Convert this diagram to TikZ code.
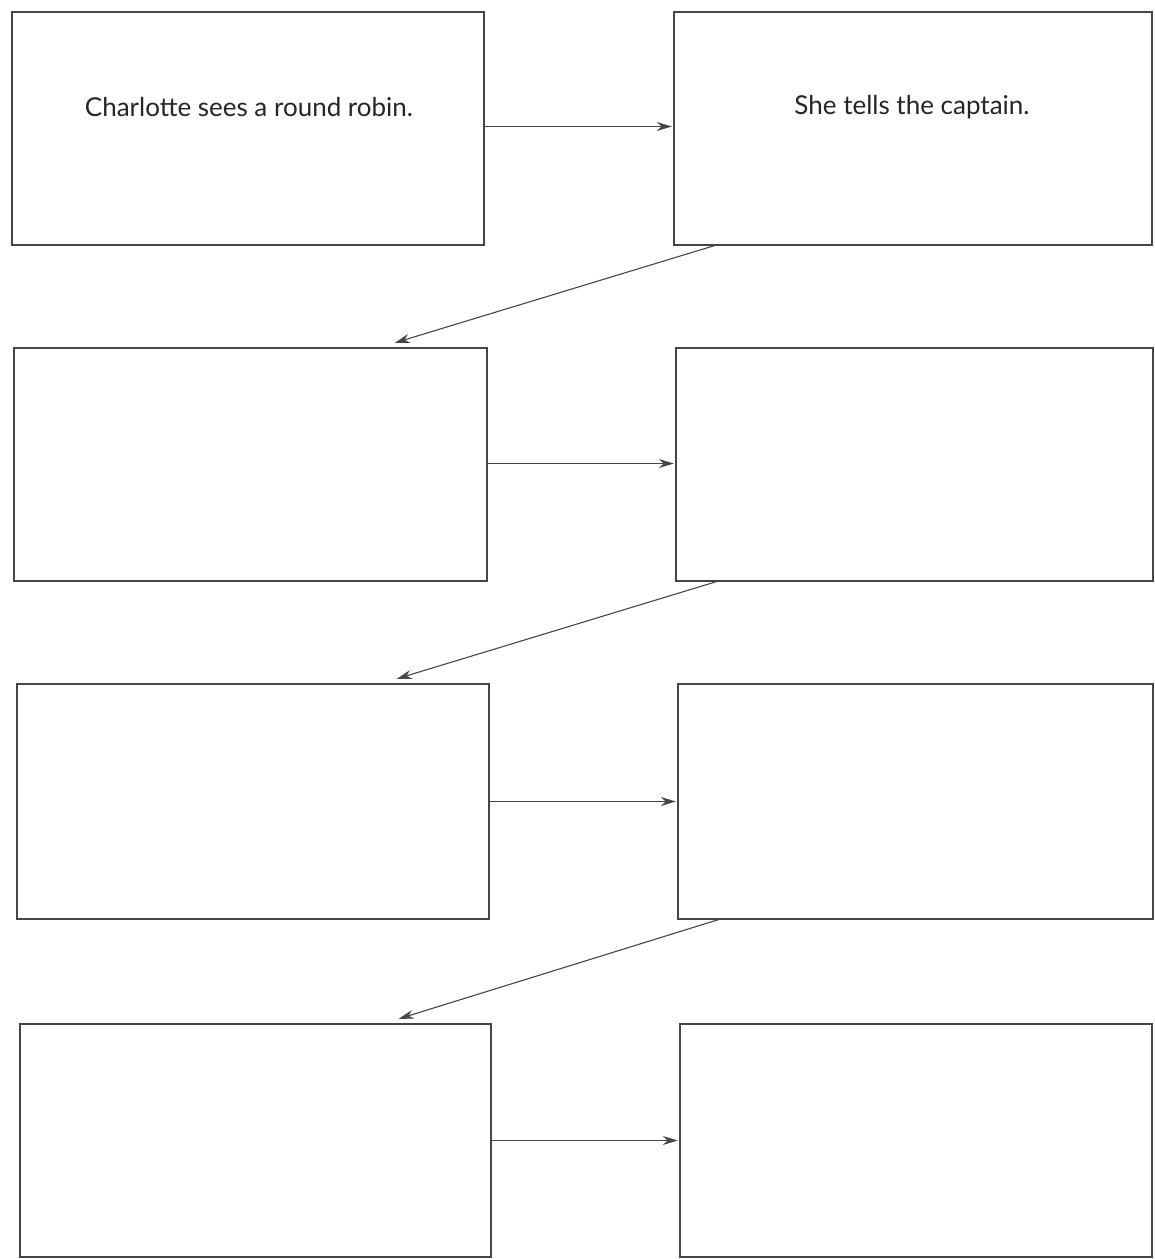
\documentclass[tikz,border=0pt]{standalone}
\usepackage{fontspec}
\setmainfont{Lato}
\usetikzlibrary{arrows.meta}
\definecolor{ink}{RGB}{70,70,70}
\begin{document}
\begin{tikzpicture}[x=1pt,y=-1pt,
  panel/.style={draw=ink, line width=1.3pt, inner sep=0pt},
  flow/.style={draw=ink, line width=1.1pt, -{Stealth[length=15pt,width=9pt]}},
  txt/.style={font=\fontsize{26}{30}\selectfont, text=black!85}]
\useasboundingbox[fill=white] (0,0) rectangle (1155,1259);
% boxes
\draw[panel] (12,12) rectangle (484,245);
\node (A) [inner sep=0pt, minimum width=472pt, minimum height=233pt] at (248,128.5) {};
\draw[panel] (674,12) rectangle (1152,245);
\node (B) [inner sep=0pt, minimum width=478pt, minimum height=233pt] at (913,128.5) {};
\draw[panel] (14,348) rectangle (487,581);
\node (C) [inner sep=0pt, minimum width=473pt, minimum height=233pt] at (250.5,464.5) {};
\draw[panel] (676,348) rectangle (1153,581);
\node (D) [inner sep=0pt, minimum width=477pt, minimum height=233pt] at (914.5,464.5) {};
\draw[panel] (17,684) rectangle (489,919);
\node (E) [inner sep=0pt, minimum width=472pt, minimum height=235pt] at (253,801.5) {};
\draw[panel] (678,684) rectangle (1153,919);
\node (F) [inner sep=0pt, minimum width=475pt, minimum height=235pt] at (915.5,801.5) {};
\draw[panel] (20,1024) rectangle (491,1257);
\node (G) [inner sep=0pt, minimum width=471pt, minimum height=233pt] at (255.5,1140.5) {};
\draw[panel] (680,1024) rectangle (1152,1257);
\node (H) [inner sep=0pt, minimum width=472pt, minimum height=233pt] at (916,1140.5) {};
% texts
\node (tA) [txt] at (249,107) {Charlotte sees a round robin.};
\node (tB) [txt] at (912,107) {She tells the captain.};
% horizontal arrows
\draw[flow] ([yshift=2pt]A.east) -- ([xshift=-2pt,yshift=2pt]B.west);
\draw[flow] ([yshift=1pt]C.east) -- ([xshift=-2pt,yshift=1pt]D.west);
\draw[flow] (E.east) -- ([xshift=-2pt]F.west);
\draw[flow] (G.east) -- ([xshift=-2pt]H.west);
% diagonal arrows
\draw[flow] ([xshift=42pt]B.south west) -- ([xshift=381pt,yshift=5pt]C.north west);
\draw[flow] ([xshift=42pt]D.south west) -- ([xshift=380pt,yshift=5pt]E.north west);
\draw[flow] ([xshift=42pt]F.south west) -- ([xshift=379pt,yshift=5pt]G.north west);
\end{tikzpicture}
\end{document}
